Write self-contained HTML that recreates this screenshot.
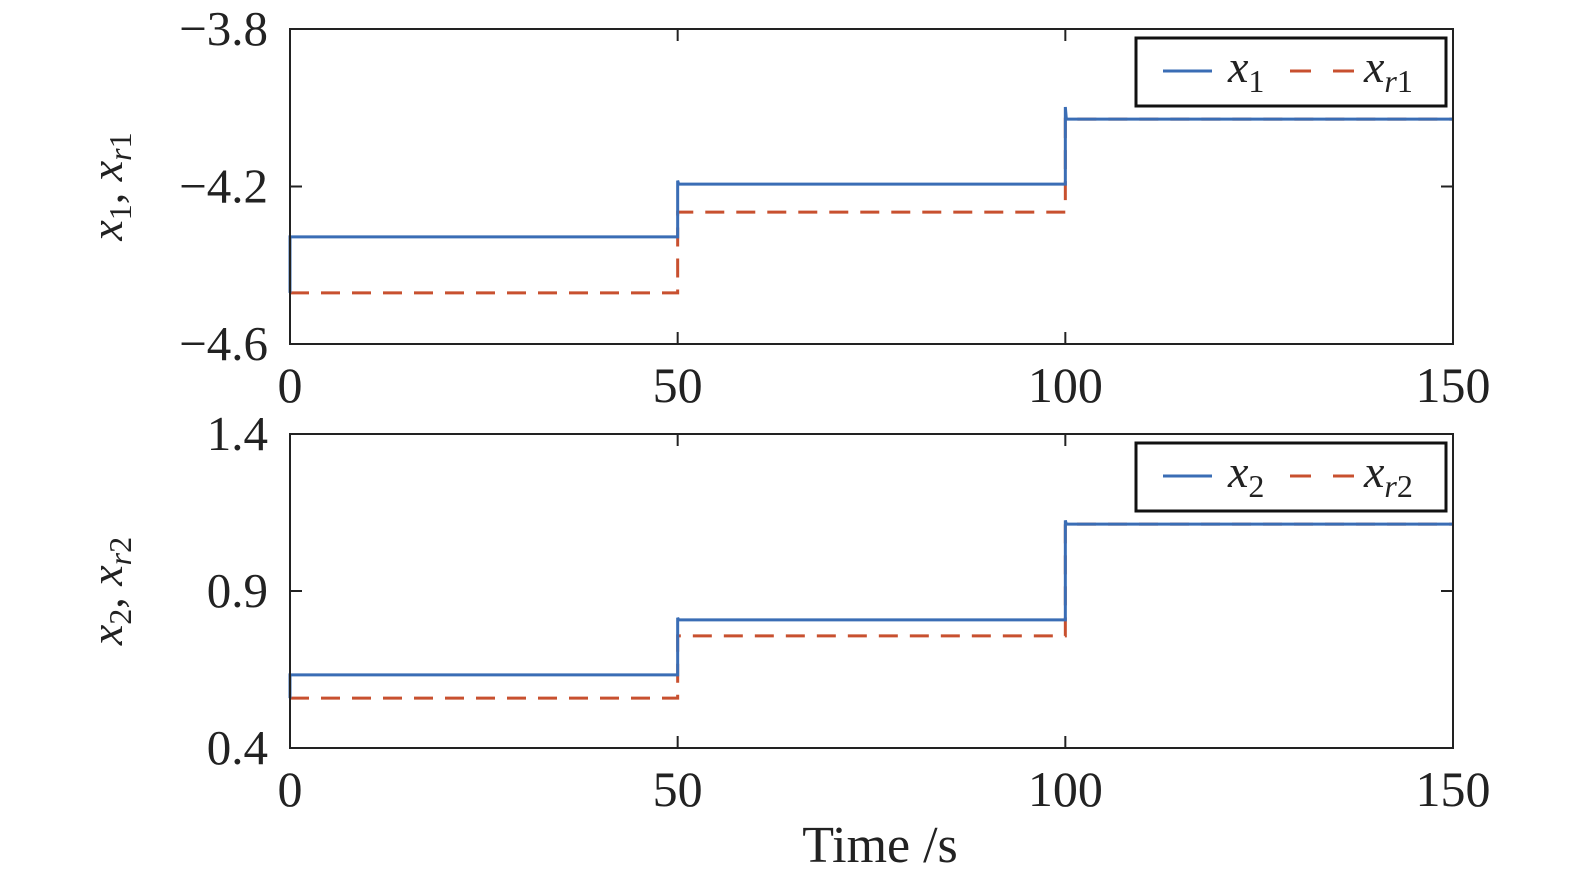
<!DOCTYPE html>
<html><head><meta charset="utf-8"><style>
body{margin:0;background:#fff}
svg text{font-family:"Liberation Serif",serif;fill:#222}
</style></head><body>
<svg id="chart" width="1575" height="879" xmlns="http://www.w3.org/2000/svg"></svg>
<script>
const timeBreaks = [0, 50, 100, 150];
const x1Values = [-4.328, -4.194, -4.029];
const xr1Values = [-4.47, -4.265, -4.029];
const x1Spikes = [-4.185, -3.998];
const x2Values = [0.633, 0.808, 1.113];
const xr2Values = [0.559, 0.757, 1.113];
const x2Spikes = [0.815, 1.125];
const xTicks = [0, 50, 100, 150];
const yTicksTop = [-3.8, -4.2, -4.6];
const yTicksTopLabels = ["\u22123.8", "\u22124.2", "\u22124.6"];
const yTicksBottom = [1.4, 0.9, 0.4];
const yTicksBottomLabels = ["1.4", "0.9", "0.4"];

const NS = "http://www.w3.org/2000/svg";
const svg = document.getElementById("chart");
function mk(tag, attrs, parent) {
  const e = document.createElementNS(NS, tag);
  for (const k in attrs) e.setAttribute(k, attrs[k]);
  (parent || svg).appendChild(e);
  return e;
}
const X0 = 290, X1 = 1453;
const xs = v => X0 + (v - 0) / 150 * (X1 - X0);

function panel(name, top, bot, ymax, ymin, ticks, tickLabels, a, b, spikes, leg, ylab, startVal) {
  const ys = v => top + (ymax - v) / (ymax - ymin) * (bot - top);
  const g = mk("g", {});
  
  
  function stepPath(vals, sp, start) {
    let d = "M" + xs(timeBreaks[0]) + "," + ys(start);
    d += " L" + xs(timeBreaks[0]) + "," + ys(vals[0]);
    for (let i = 0; i < vals.length; i++) {
      d += " L" + xs(timeBreaks[i + 1]) + "," + ys(vals[i]);
      if (i + 1 < vals.length) {
        if (sp) d += " L" + xs(timeBreaks[i + 1]) + "," + ys(sp[i]) + " L" + (xs(timeBreaks[i + 1]) + 1) + "," + ys(vals[i + 1]);
        else d += " L" + xs(timeBreaks[i + 1]) + "," + ys(vals[i + 1]);
      }
    }
    return d;
  }
  const pb = mk("path", {d: stepPath(b, null, b[0]), fill: "none", stroke: "#c8502f", "stroke-width": 3, "stroke-dasharray": "19,12"}, g);
  
  
  const pa = mk("path", {d: stepPath(a, spikes, startVal), fill: "none", stroke: "#3a6db5", "stroke-width": 3}, g);
  
  
  const fr = mk("rect", {x: X0, y: top, width: X1 - X0, height: bot - top, fill: "none", stroke: "#222", "stroke-width": 2}, g);
  
  
  xTicks.forEach(t => {
    mk("line", {x1: xs(t), x2: xs(t), y1: bot, y2: bot - 12, stroke: "#222", "stroke-width": 2}, g);
    mk("line", {x1: xs(t), x2: xs(t), y1: top, y2: top + 12, stroke: "#222", "stroke-width": 2}, g);
    const tx = mk("text", {x: xs(t), y: bot + 58, "font-size": 50, "text-anchor": "middle"}, g);
    tx.textContent = t;
    
    
  });
  ticks.forEach((t, i) => {
    mk("line", {x1: X0, x2: X0 + 12, y1: ys(t), y2: ys(t), stroke: "#222", "stroke-width": 2}, g);
    mk("line", {x1: X1, x2: X1 - 12, y1: ys(t), y2: ys(t), stroke: "#222", "stroke-width": 2}, g);
    const tx = mk("text", {x: 268, y: ys(t) + 16, "font-size": 49, "text-anchor": "end"}, g);
    tx.textContent = tickLabels[i];
    
    
  });
  const yl = mk("text", {transform: "translate(122," + ((top + bot) / 2) + ") rotate(-90)", "font-size": 46, "text-anchor": "middle", "font-style": "italic"}, g);
  yl.innerHTML = ylab;
  
  
  const lg = mk("g", {}, g);
  
  
  const ly = top + 9;
  mk("rect", {x: 1136, y: ly, width: 310, height: 68, fill: "#fff", stroke: "#111", "stroke-width": 3}, lg);
  mk("line", {x1: 1163, x2: 1212, y1: ly + 33, y2: ly + 33, stroke: "#3a6db5", "stroke-width": 3}, lg);
  mk("line", {x1: 1290, x2: 1354, y1: ly + 33, y2: ly + 33, stroke: "#c8502f", "stroke-width": 3, "stroke-dasharray": "21,22"}, lg);
  const t1 = mk("text", {x: 1228, y: ly + 44, "font-size": 46}, lg);
  t1.innerHTML = '<tspan font-style="italic">x</tspan><tspan font-size="32" dy="10">' + leg[0] + '</tspan>';
  
  
  const t2 = mk("text", {x: 1364, y: ly + 44, "font-size": 46}, lg);
  t2.innerHTML = '<tspan font-style="italic">x</tspan><tspan font-size="32" dy="10"><tspan font-style="italic">r</tspan>' + leg[0] + '</tspan>';
  
  
}
panel("top-panel", 29, 344, -3.8, -4.6, yTicksTop, yTicksTopLabels, x1Values, xr1Values, x1Spikes, ["1"],
  'x<tspan font-size="32" dy="9" font-style="normal">1</tspan><tspan dy="-9" font-style="normal">, </tspan>x<tspan font-size="32" dy="9">r</tspan><tspan font-size="32" font-style="normal">1</tspan>', xr1Values[0]);
panel("bottom-panel", 434, 748, 1.4, 0.4, yTicksBottom, yTicksBottomLabels, x2Values, xr2Values, x2Spikes, ["2"],
  'x<tspan font-size="32" dy="9" font-style="normal">2</tspan><tspan dy="-9" font-style="normal">, </tspan>x<tspan font-size="32" dy="9">r</tspan><tspan font-size="32" font-style="normal">2</tspan>', xr2Values[0]);
const xt = mk("text", {x: 880, y: 862, "font-size": 52, "text-anchor": "middle"});
xt.textContent = "Time /s";


</script>
</body></html>
